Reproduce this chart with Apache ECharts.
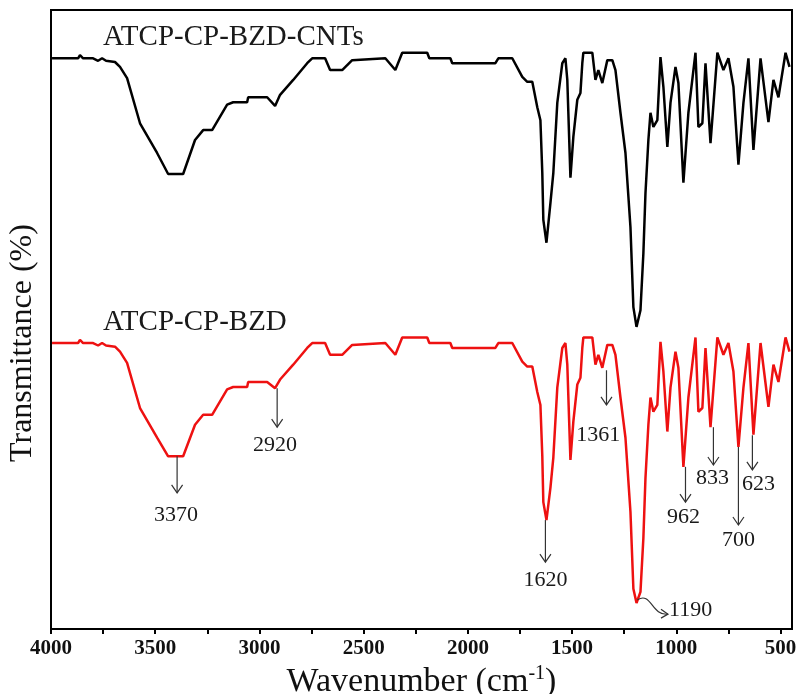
<!DOCTYPE html>
<html>
<head>
<meta charset="utf-8">
<script src="https://cdn.jsdelivr.net/npm/echarts@6/dist/echarts.min.js"></script>
<style>html,body{margin:0;padding:0;background:#fff;}#c{width:797px;height:694px;}</style>
</head>
<body>
<div id="c"></div>
<script>
// Wavenumber (cm-1) of sampled points
var wavenumbers = [3995,3870,3861,3846,3798,3774,3755,3736,3693,3669,
  3635,3573,3491,3438,3366,3309,3270,3227,3155,3126,
  3059,3054,2963,2925,2901,2838,2771,2747,2685,2661,
  2603,2555,2396,2348,2315,2195,2185,2084,2075,1868,
  1854,1787,1739,1715,1691,1667,1652,1643,1638,1623,
  1604,1590,1571,1547,1532,1523,1508,1494,1475,1460,
  1451,1446,1403,1388,1374,1355,1331,1307,1292,1268,
  1244,1220,1206,1191,1172,1158,1148,1134,1124,1110,
  1091,1076,1062,1043,1028,1004,990,966,942,908,
  894,875,860,836,803,774,750,726,702,678,
  654,630,596,558,534,510,476,457];
// ATCP-CP-BZD-CNTs (black, offset transmittance)
var cntsValues = [92.2,92.2,92.7,92.2,92.2,91.8,92.2,91.8,91.6,90.8,
  89.0,81.7,76.9,73.5,73.5,79.0,80.6,80.6,84.7,85.1,
  85.1,85.9,85.9,84.5,86.3,88.7,91.4,92.2,92.2,90.3,
  90.3,91.9,92.2,90.3,93.1,93.1,92.2,92.2,91.4,91.4,
  92.2,92.2,89.2,88.4,88.4,84.3,82.2,73.7,66.1,62.4,
  68.8,73.7,85.0,91.4,92.2,88.7,72.9,79.5,85.5,86.6,
  91.4,93.1,93.1,88.7,90.3,88.2,91.9,91.9,90.3,83.4,
  76.9,64.9,52.0,48.8,51.5,60.7,70.4,79.0,83.4,81.1,
  82.2,92.4,87.6,77.9,85.0,90.8,88.2,72.1,83.4,93.1,
  81.1,81.7,91.4,78.5,93.1,90.3,92.2,87.6,75.0,85.0,
  92.2,77.4,92.2,81.9,88.7,85.9,93.1,90.8];
// ATCP-CP-BZD (red)
var bzdValues = [46.2,46.2,46.7,46.2,46.2,45.8,46.2,45.8,45.6,44.8,
  43.0,35.7,30.9,27.9,27.9,33.0,34.6,34.6,38.7,39.1,
  39.1,39.9,39.9,38.9,40.3,42.7,45.4,46.2,46.2,44.3,
  44.3,45.9,46.2,44.3,47.1,47.1,46.2,46.2,45.4,45.4,
  46.2,46.2,43.2,42.4,42.4,38.3,36.2,28.0,20.5,17.6,
  22.8,27.7,39.0,45.4,46.2,42.7,27.3,33.5,39.5,40.6,
  45.4,47.1,47.1,42.7,44.3,42.2,45.9,45.9,44.3,37.4,
  30.9,18.9,6.5,4.2,6.0,14.7,24.4,33.0,37.4,35.1,
  36.2,46.4,41.6,31.9,39.0,44.8,42.2,26.2,37.4,47.1,
  35.1,35.7,45.4,32.6,47.1,44.3,46.2,41.6,29.4,39.0,
  46.2,31.4,46.2,35.9,42.7,39.9,47.1,44.8];

var xTickValues = [500,750,1000,1250,1500,1750,2000,2250,2500,2750,3000,3250,3500,3750,4000];
var xLabelValues = [500,1000,1500,2000,2500,3000,3500,4000];

var seriesNames = ['ATCP-CP-BZD-CNTs','ATCP-CP-BZD'];
var seriesNameX = [3750, 3750];
var seriesNameY = [95.6, 49.6];

// peak annotations (red curve)
var peakLabels = ['3370','2920','1620','1361','962','833','700','623'];
var peakX      = [3395, 2915, 1628, 1335, 956, 822, 702, 635];
var arrowFrom  = [27.9, 38.9, 17.6, 41.8, 26.2, 32.6, 29.4, 31.3];
var arrowTo    = [22.0, 32.6, 10.8, 36.2, 20.5, 26.5, 16.8, 25.7];
var labelX     = [3400, 2925, 1628, 1374, 966, 827, 702, 606];
var labelY     = [18.4, 29.7, 7.9, 31.3, 18.1, 24.4, 14.4, 23.4];
// curved pointer for 1190
var curveLabel = '1190';
var curveStart = [1187, 4.7];
var curveEnd = [1040, 2.4];

function pairs(xs, ys){ return xs.map(function(x,i){ return [x, ys[i]]; }); }

var SERIF = '"Liberation Serif","Times New Roman",serif';
var chart = echarts.init(document.getElementById('c'), null, {renderer:'canvas'});
chart.setOption({
  animation:false,
  backgroundColor:'#fff',
  grid:{left:51, right:5, top:10, bottom:65, containLabel:false, outerBoundsMode:'none',
        show:true, borderColor:'#000', borderWidth:2, backgroundColor:'transparent'},
  xAxis:{
    type:'value', inverse:true, min:445, max:4000,
    name:'Wavenumber (cm{sup|-1})', nameLocation:'middle', nameGap:19,
    nameTextStyle:{fontFamily:SERIF, fontSize:34, color:'#111',
      rich:{sup:{fontFamily:SERIF, fontSize:20, color:'#111', padding:[0,0,16,0]}}},
    axisLine:{show:true, onZero:false, lineStyle:{color:'#000', width:2}},
    axisTick:{show:true, inside:false, length:5, lineStyle:{color:'#000', width:2}, customValues:xTickValues},
    axisLabel:{show:true, margin:9, fontFamily:SERIF, fontWeight:'bold', fontSize:21, color:'#111',
      customValues:xLabelValues, formatter:function(v){ return String(v); }},
    splitLine:{show:false}
  },
  yAxis:{
    type:'value', min:0, max:100,
    axisLine:{show:true, onZero:false, lineStyle:{color:'#000', width:2}},
    axisTick:{show:false}, axisLabel:{show:false}, splitLine:{show:false}
  },
  series:[
    {name:seriesNames[0], type:'line', data:pairs(wavenumbers, cntsValues), showSymbol:false, symbol:'none',
     lineStyle:{color:'#000', width:2.5}, z:3},
    {name:seriesNames[1], type:'line', data:pairs(wavenumbers, bzdValues), showSymbol:false, symbol:'none',
     lineStyle:{color:'#ee1111', width:2.5}, z:3}
  ]
});

function px(x, y){ return chart.convertToPixel({xAxisIndex:0, yAxisIndex:0}, [x, y]); }
var g = [];
var ARROW = '#333';
function txt(x, y, t, size, align){
  return {type:'text', x:x, y:y, z:10, style:{text:t, font:size+'px '+SERIF, fill:'#1a1a1a',
    align:align||'center', verticalAlign:'middle', textAlign:align||'center', textVerticalAlign:'middle'}};
}
seriesNames.forEach(function(n, i){
  var p = px(seriesNameX[i], seriesNameY[i]);
  g.push(txt(p[0], p[1], n, 29, 'left'));
});
peakLabels.forEach(function(l, i){
  var a = px(peakX[i], arrowFrom[i]);
  var b = px(peakX[i], arrowTo[i]);
  g.push({type:'line', z:10, shape:{x1:a[0], y1:a[1], x2:b[0], y2:b[1]}, style:{stroke:ARROW, lineWidth:1.2}});
  g.push({type:'polyline', z:10, shape:{points:[[b[0]-5.5, b[1]-8],[b[0], b[1]],[b[0]+5.5, b[1]-8]]}, style:{stroke:ARROW, lineWidth:1.2, fill:null}});
  var lp = px(labelX[i], labelY[i]);
  g.push(txt(lp[0], lp[1], l, 22, 'center'));
});
(function(){
  var s = px(curveStart[0], curveStart[1]);
  var e = px(curveEnd[0], curveEnd[1]);
  g.push({type:'bezierCurve', z:10, shape:{x1:s[0], y1:s[1], x2:e[0], y2:e[1],
    cpx1:s[0]+14, cpy1:s[1]-9, cpx2:s[0]+14, cpy2:e[1]+2}, style:{stroke:ARROW, lineWidth:1.2, fill:null}});
  g.push({type:'polyline', z:10, shape:{points:[[e[0]-7, e[1]-5],[e[0], e[1]],[e[0]-7, e[1]+4]]}, style:{stroke:ARROW, lineWidth:1.2, fill:null}});
  g.push(txt(e[0]+1, e[1]-4, curveLabel, 22, 'left'));
})();
g.push({type:'text', x:23, y:343, rotation:Math.PI/2, z:10,
  style:{text:'Transmittance (%)', font:'32px '+SERIF, fill:'#111', align:'center', verticalAlign:'middle', textAlign:'center', textVerticalAlign:'middle'}});
chart.setOption({graphic:{elements:g}});
</script>
</body>
</html>
